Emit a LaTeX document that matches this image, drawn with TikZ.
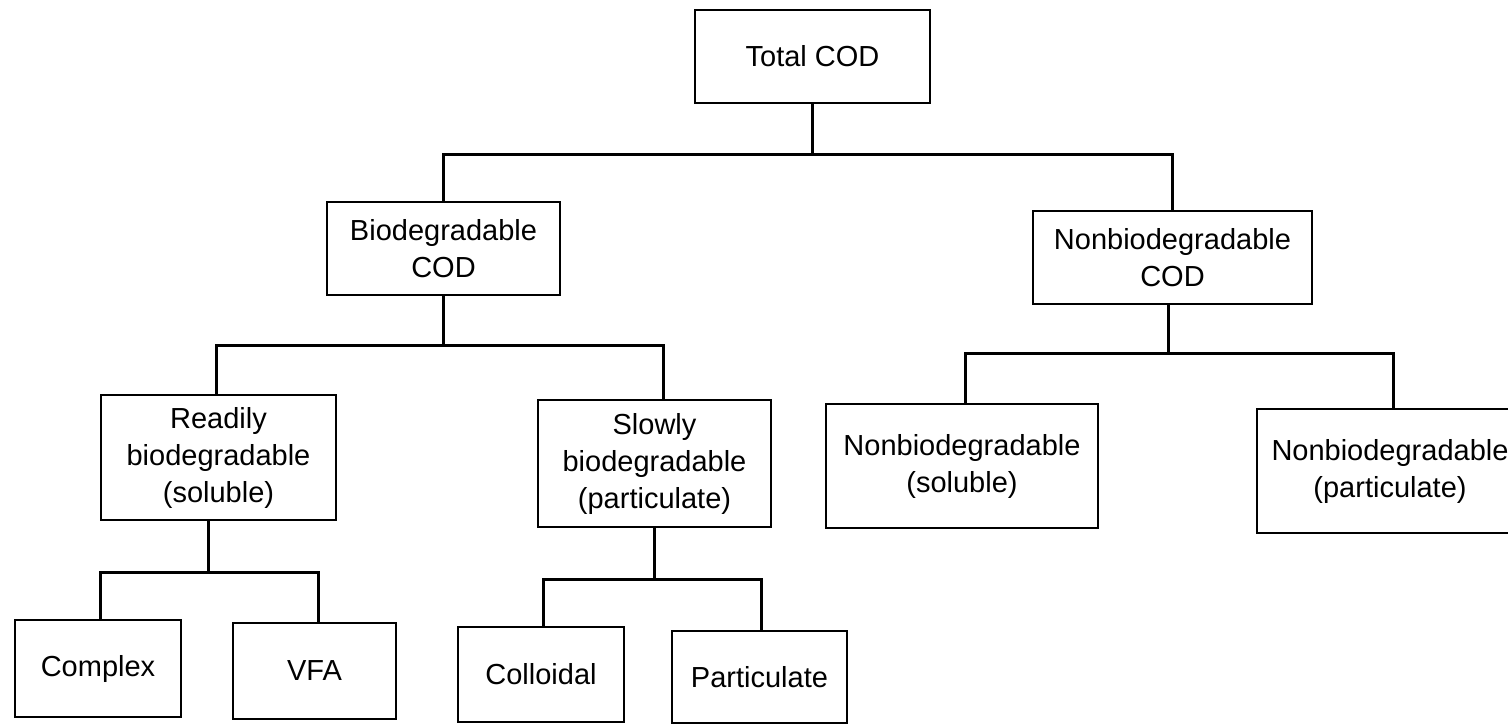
\documentclass[tikz,border=0pt]{standalone}
\usepackage{fontspec}
\setmainfont{Liberation Sans}
\begin{document}
\begin{tikzpicture}[x=1pt,y=-1pt,
  box/.style={draw, line width=2.2pt, inner sep=0pt, align=center,
              font=\fontsize{29}{37}\selectfont},
  conn/.style={line width=3pt, line join=miter, line cap=rect}]
\useasboundingbox (0,0) rectangle (1508,726);
% level 0
\node[box, minimum width=235pt, minimum height=93pt] (total) at (812.5,56.5) {Total COD};
% level 1
\node[box, minimum width=233pt, minimum height=93pt] (bio) at (443.5,248.5) {Biodegradable\\COD};
\node[box, minimum width=279pt, minimum height=93pt] (nonbio) at (1172.5,257.5) {Nonbiodegradable\\COD};
% level 2
\node[box, minimum width=235pt, minimum height=125pt] (ready) at (218.5,457.5) {Readily\\biodegradable\\(soluble)};
\node[box, minimum width=233pt, minimum height=127pt] (slow) at (654.5,463.5) {Slowly\\biodegradable\\(particulate)};
\node[box, minimum width=272pt, minimum height=124pt] (nsol) at (962,466) {Nonbiodegradable\\(soluble)};
\node[box, minimum width=266pt, minimum height=124pt] (npart) at (1390,471) {Nonbiodegradable\\(particulate)};
% level 3
\node[box, minimum width=166pt, minimum height=97pt] (complex) at (98,668.5) {Complex};
\node[box, minimum width=163pt, minimum height=96pt] (vfa) at (314.5,671) {VFA};
\node[box, minimum width=166pt, minimum height=95pt] (coll) at (541,674.5) {Colloidal};
\node[box, minimum width=175pt, minimum height=92pt] (part) at (759.5,677) {Particulate};
% bus levels
\coordinate (bus1) at (0,154);
\coordinate (bus2) at (0,345);
\coordinate (bus3) at (0,353);
\coordinate (bus4) at (0,572);
\coordinate (bus5) at (0,579);
% connectors
\draw[conn] (total.south) -- (total.south |- bus1);
\draw[conn] (bio.north) -- (bio.north |- bus1) -- (nonbio.north |- bus1) -- (nonbio.north);
\draw[conn] (bio.south) -- (bio.south |- bus2);
\draw[conn] ([xshift=-2pt]ready.north) -- ([xshift=-2pt]ready.north |- bus2)
            -- ([xshift=8.5pt]slow.north |- bus2) -- ([xshift=8.5pt]slow.north);
\draw[conn] ([xshift=-4pt]nonbio.south) -- ([xshift=-4pt]nonbio.south |- bus3);
\draw[conn] ([xshift=3pt]nsol.north) -- ([xshift=3pt]nsol.north |- bus3)
            -- ([xshift=3pt]npart.north |- bus3) -- ([xshift=3pt]npart.north);
\draw[conn] ([xshift=-10pt]ready.south) -- ([xshift=-10pt]ready.south |- bus4);
\draw[conn] ([xshift=2pt]complex.north) -- ([xshift=2pt]complex.north |- bus4)
            -- ([xshift=3.5pt]vfa.north |- bus4) -- ([xshift=3.5pt]vfa.north);
\draw[conn] (slow.south) -- (slow.south |- bus5);
\draw[conn] ([xshift=2pt]coll.north) -- ([xshift=2pt]coll.north |- bus5)
            -- ([xshift=1.5pt]part.north |- bus5) -- ([xshift=1.5pt]part.north);
\end{tikzpicture}
\end{document}
